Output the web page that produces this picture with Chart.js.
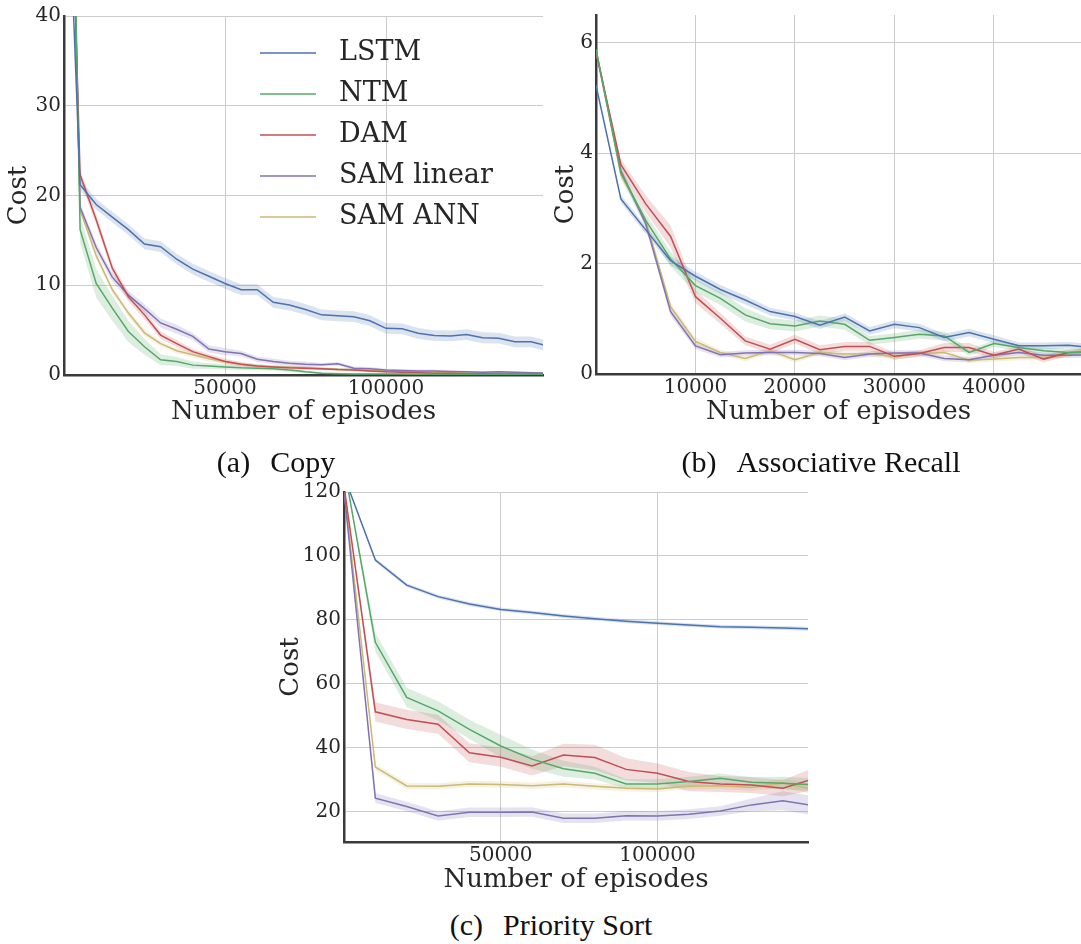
<!DOCTYPE html>
<html lang="en">
<head>
<meta charset="UTF-8" />
<title>Learning curves: Copy, Associative Recall, Priority Sort</title>
<style>
  body {
    margin: 0;
    background: #fff;
    width: 1081px;
    height: 944px;
    position: relative;
    overflow: hidden;
  }
  canvas.panel { position: absolute; }
  .caption {
    position: absolute;
    font-family: 'Liberation Serif', serif;
    font-size: 30px;
    line-height: 34px;
    color: #111;
    white-space: nowrap;
    transform: translate(-50%, -50%);
  }
  .caption .tag { margin-right: 20px; }
</style>
</head>
<body>
  <canvas id="copyChart" class="panel" width="560" height="430" style="left:0;top:0"></canvas>
  <canvas id="recallChart" class="panel" width="534" height="430" style="left:547px;top:0"></canvas>
  <canvas id="sortChart" class="panel" width="540" height="426" style="left:272px;top:470px"></canvas>

  <div class="caption" style="left:276px;top:462px"><span class="tag">(a)</span>Copy</div>
  <div class="caption" style="left:821px;top:462px"><span class="tag">(b)</span>Associative Recall</div>
  <div class="caption" style="left:551px;top:925px"><span class="tag">(c)</span>Priority Sort</div>

<script src="https://cdn.jsdelivr.net/npm/chart.js"></script>
<script>
  const SERIES = ['LSTM', 'NTM', 'DAM', 'SAM linear', 'SAM ANN'];
  const COLORS = ['#4c72b0', '#55a868', '#c44e52', '#8172b2', '#ccb974'];

  // ---- (a) Copy ----
  const copyEpisodes = [0, 5000, 10000, 15000, 20000, 25000, 30000, 35000, 40000, 45000,
    50000, 55000, 60000, 65000, 70000, 75000, 80000, 85000, 90000, 95000,
    100000, 105000, 110000, 115000, 120000, 125000, 130000, 135000, 140000, 145000, 150000];
  const copyLSTM = [68, 21.2, 19.0, 17.6, 16.2, 14.6, 14.3, 12.9, 11.8, 11.0, 10.2, 9.5, 9.5, 8.1, 7.8, 7.3,
    6.7, 6.6, 6.5, 6.05, 5.2, 5.15, 4.65, 4.4, 4.35, 4.5, 4.15, 4.1, 3.7, 3.7, 3.25];
  const copyNTM = [110, 16.2, 10.2, 7.45, 4.85, 3.15, 1.7, 1.5, 1.1, 1.0, 0.9, 0.8, 0.75, 0.7, 0.55, 0.35,
    0.2, 0.15, 0.1, 0.1, 0.1, 0.1, 0.08, 0.08, 0.08, 0.08, 0.07, 0.07, 0.07, 0.07, 0.07];
  const copyDAM = [85, 22.3, 17.3, 11.9, 8.7, 6.7, 4.45, 3.5, 2.6, 2.05, 1.5, 1.2, 1.0, 0.9, 0.8, 0.75,
    0.7, 0.6, 0.55, 0.45, 0.35, 0.3, 0.25, 0.2, 0.2, 0.15, 0.15, 0.12, 0.12, 0.1, 0.1];
  const copySAMLinear = [95, 18.7, 14.2, 10.9, 8.9, 7.4, 5.8, 5.1, 4.3, 2.9, 2.6, 2.4, 1.75, 1.5, 1.3, 1.2,
    1.15, 1.25, 0.75, 0.7, 0.55, 0.5, 0.45, 0.45, 0.4, 0.35, 0.3, 0.35, 0.3, 0.25, 0.2];
  const copySAMANN = [100, 18.4, 13.3, 9.5, 6.9, 4.7, 3.5, 2.7, 2.25, 1.8, 1.5, 1.2, 1.0, 0.9, 0.85, 0.8,
    0.7, 0.65, 0.6, 0.5, 0.45, 0.4, 0.35, 0.3, 0.3, 0.25, 0.25, 0.2, 0.2, 0.2, 0.2];
  // half width of the shaded band
  const copyLSTMBand = [0, 0.6, 0.6, 0.6, 0.6, 0.6, 0.6, 0.6, 0.6, 0.6, 0.6, 0.6, 0.6, 0.6, 0.6, 0.6,
    0.6, 0.6, 0.6, 0.6, 0.6, 0.6, 0.6, 0.6, 0.6, 0.6, 0.6, 0.6, 0.6, 0.6, 0.6];
  const copyNTMBand = [0, 1.5, 1.6, 1.4, 1.2, 0.9, 0.6, 0.5, 0.4, 0.3, 0.3, 0.25, 0.2, 0.2, 0.2, 0.15,
    0.1, 0.1, 0.1, 0.1, 0.1, 0.1, 0.1, 0.1, 0.1, 0.1, 0.1, 0.1, 0.1, 0.1, 0.1];
  const copyDAMBand = [0, 0.6, 0.6, 0.5, 0.5, 0.5, 0.4, 0.4, 0.3, 0.3, 0.3, 0.25, 0.2, 0.2, 0.2, 0.2,
    0.15, 0.15, 0.15, 0.15, 0.1, 0.1, 0.1, 0.1, 0.1, 0.1, 0.1, 0.1, 0.1, 0.1, 0.1];
  const copySAMLinearBand = [0, 0.5, 0.5, 0.5, 0.5, 0.5, 0.5, 0.5, 0.4, 0.4, 0.4, 0.3, 0.3, 0.3, 0.3, 0.3,
    0.2, 0.2, 0.2, 0.2, 0.15, 0.15, 0.15, 0.15, 0.1, 0.1, 0.1, 0.1, 0.1, 0.1, 0.1];
  const copySAMANNBand = [0, 0.4, 0.4, 0.4, 0.4, 0.4, 0.3, 0.3, 0.3, 0.3, 0.2, 0.2, 0.2, 0.2, 0.15, 0.15,
    0.15, 0.1, 0.1, 0.1, 0.1, 0.1, 0.1, 0.1, 0.1, 0.1, 0.1, 0.1, 0.1, 0.1, 0.1];
  const copyXTicks = [50000, 100000];
  const copyYTicks = [0, 10, 20, 30, 40];

  // ---- (b) Associative Recall ----
  const recallEpisodes = [0, 2500, 5000, 7500, 10000, 12500, 15000, 17500, 20000, 22500, 25000,
    27500, 30000, 32500, 35000, 37500, 40000, 42500, 45000, 47500, 50000];
  const recallLSTM = [5.23, 3.17, 2.61, 2.05, 1.77, 1.53, 1.34, 1.13, 1.04, 0.885, 1.03,
    0.78, 0.9, 0.84, 0.66, 0.75, 0.63, 0.51, 0.51, 0.52, 0.48];
  const recallNTM = [5.88, 3.64, 2.78, 2.08, 1.6, 1.37, 1.07, 0.91, 0.87, 0.96, 0.9,
    0.61, 0.66, 0.72, 0.69, 0.39, 0.55, 0.48, 0.42, 0.39, 0.4];
  const recallDAM = [5.85, 3.79, 3.08, 2.49, 1.4, 1.01, 0.6, 0.45, 0.63, 0.44, 0.5,
    0.5, 0.32, 0.37, 0.48, 0.48, 0.34, 0.45, 0.27, 0.39, 0.4];
  const recallSAMLinear = [5.85, 3.68, 2.72, 1.13, 0.51, 0.35, 0.38, 0.39, 0.39, 0.37, 0.3,
    0.36, 0.38, 0.38, 0.28, 0.26, 0.34, 0.39, 0.34, 0.34, 0.35];
  const recallSAMANN = [5.85, 3.61, 2.78, 1.22, 0.59, 0.39, 0.28, 0.42, 0.26, 0.39, 0.36,
    0.37, 0.31, 0.37, 0.39, 0.25, 0.27, 0.3, 0.3, 0.35, 0.5];
  const recallLSTMBand = [0, 0.07, 0.07, 0.08, 0.08, 0.08, 0.08, 0.07, 0.07, 0.07, 0.07,
    0.07, 0.07, 0.07, 0.07, 0.07, 0.07, 0.06, 0.06, 0.06, 0.06];
  const recallNTMBand = [0, 0.1, 0.12, 0.14, 0.12, 0.12, 0.12, 0.1, 0.1, 0.1, 0.1,
    0.08, 0.08, 0.08, 0.08, 0.06, 0.06, 0.06, 0.06, 0.06, 0.06];
  const recallDAMBand = [0, 0.1, 0.15, 0.2, 0.12, 0.1, 0.08, 0.08, 0.08, 0.08, 0.08,
    0.08, 0.06, 0.06, 0.08, 0.08, 0.06, 0.06, 0.06, 0.06, 0.06];
  const recallSAMLinearBand = [0, 0.06, 0.06, 0.08, 0.06, 0.05, 0.05, 0.05, 0.05, 0.05, 0.05,
    0.05, 0.05, 0.05, 0.05, 0.05, 0.05, 0.05, 0.05, 0.05, 0.05];
  const recallSAMANNBand = [0, 0.06, 0.06, 0.08, 0.06, 0.05, 0.05, 0.05, 0.05, 0.05, 0.05,
    0.05, 0.05, 0.05, 0.05, 0.05, 0.05, 0.05, 0.05, 0.05, 0.05];
  const recallXTicks = [10000, 20000, 30000, 40000];
  const recallYTicks = [0, 2, 4, 6];

  // ---- (c) Priority Sort ----
  const sortEpisodes = [0, 10000, 20000, 30000, 40000, 50000, 60000, 70000, 80000,
    90000, 100000, 110000, 120000, 130000, 140000, 150000];
  const sortLSTM = [125, 98.75, 90.9, 87.3, 85.0, 83.3, 82.3, 81.25, 80.4, 79.6, 79.0, 78.4, 77.9, 77.7, 77.5, 77.2];
  const sortNTM = [128, 73.0, 55.8, 51.6, 45.8, 40.6, 36.5, 33.5, 32.1, 28.75, 28.75, 29.5, 30.5, 29.3, 29.0, 28.5];
  const sortDAM = [122, 51.3, 48.9, 47.4, 38.5, 37.1, 34.4, 37.8, 37.0, 33.3, 32.1, 29.5, 28.75, 28.4, 27.4, 30.4];
  const sortSAMLinear = [120.5, 24.3, 21.7, 18.75, 19.9, 19.9, 20.0, 18.0, 18.0, 18.8, 18.75, 19.3, 20.3, 22.2, 23.5, 21.9];
  const sortSAMANN = [121, 34.0, 28.1, 28.0, 28.75, 28.6, 28.2, 28.75, 28.0, 27.4, 27.2, 28.0, 28.2, 27.6, 29.0, 27.0];
  const sortLSTMBand = [0, 0.6, 0.6, 0.6, 0.6, 0.6, 0.6, 0.6, 0.6, 0.6, 0.6, 0.6, 0.6, 0.6, 0.6, 0.6];
  const sortNTMBand = [0, 3, 3, 3, 3, 3.5, 3, 2.5, 2, 1.5, 1.5, 1.5, 1.5, 1.5, 2, 2];
  const sortDAMBand = [0, 3, 3, 3, 3, 3, 3, 3.5, 4, 3.5, 3, 3, 2.5, 2.5, 2.5, 3.5];
  const sortSAMLinearBand = [0, 1.5, 1.5, 1.5, 1.5, 1.5, 1.5, 1.5, 1.5, 1.5, 1.5, 1.5, 1.5, 2, 3, 3];
  const sortSAMANNBand = [0, 1, 1, 1, 1, 1, 1, 1, 1, 1, 1, 1, 1, 1, 1.5, 1.5];
  const sortXTicks = [50000, 100000];
  const sortYTicks = [20, 40, 60, 80, 100, 120];

  const TEXT = '#262626';
  const FONT = 'DejaVu Serif';

  function rgba(hex, a) {
    const n = parseInt(hex.slice(1), 16);
    return `rgba(${(n >> 16) & 255},${(n >> 8) & 255},${n & 255},${a})`;
  }

  function buildDatasets(episodes, values, bands) {
    const lines = [], fills = [];
    values.forEach((vals, i) => {
      lines.push({
        label: SERIES[i],
        data: episodes.map((x, k) => ({ x, y: vals[k] })),
        borderColor: COLORS[i], borderWidth: 1.5,
        pointRadius: 0, fill: false, tension: 0, order: 0, clip: 0
      });
      fills.push({
        label: '_hi',
        data: episodes.map((x, k) => ({ x, y: vals[k] + bands[i][k] })),
        borderColor: 'rgba(0,0,0,0)', borderWidth: 0, pointRadius: 0,
        fill: '+1', backgroundColor: rgba(COLORS[i], 0.2), order: 1, clip: 0
      });
      fills.push({
        label: '_lo',
        data: episodes.map((x, k) => ({ x, y: vals[k] - bands[i][k] })),
        borderColor: 'rgba(0,0,0,0)', borderWidth: 0, pointRadius: 0,
        fill: false, order: 1, clip: 0
      });
    });
    return lines.concat(fills);
  }

  // legend drawn inside the Copy panel, over the grid
  const innerLegend = {
    id: 'innerLegend',
    afterDatasetsDraw(chart) {
      const ctx = chart.ctx;
      ctx.save();
      ctx.font = `27px "${FONT}"`;
      ctx.textBaseline = 'middle';
      SERIES.forEach((name, i) => {
        const y = 53 + i * 41;
        ctx.strokeStyle = COLORS[i];
        ctx.lineWidth = 1.5;
        ctx.beginPath();
        ctx.moveTo(260, y);
        ctx.lineTo(316, y);
        ctx.stroke();
        ctx.fillStyle = TEXT;
        ctx.fillText(name, 339, y);
      });
      ctx.restore();
    }
  };

  function makeChart(id, cfg) {
    const ctx = document.getElementById(id).getContext('2d');
    return new Chart(ctx, {
      type: 'line',
      data: { datasets: buildDatasets(cfg.episodes, cfg.values, cfg.bands) },
      plugins: cfg.plugins || [],
      options: {
        responsive: false,
        animation: false,
        layout: { padding: cfg.padding },
        plugins: { legend: { display: false }, tooltip: { enabled: false } },
        scales: {
          x: {
            type: 'linear',
            min: cfg.xRange[0], max: cfg.xRange[1],
            afterBuildTicks: s => { s.ticks = cfg.xTicks.map(v => ({ value: v })); },
            afterFit: s => { s.height = cfg.xHeight; },
            grid: { color: '#cccccc', lineWidth: 1, drawTicks: false },
            border: { display: true, color: '#3a3a3a', width: 2.5 },
            ticks: { font: { family: FONT, size: 20 }, color: TEXT, padding: 2, maxRotation: 0, callback: v => String(v) },
            title: { display: true, text: 'Number of episodes', color: TEXT, font: { family: FONT, size: 26 }, padding: { top: 0, bottom: cfg.xTitlePad } }
          },
          y: {
            type: 'linear',
            min: cfg.yRange[0], max: cfg.yRange[1],
            afterBuildTicks: s => { s.ticks = cfg.yTicks.map(v => ({ value: v })); },
            afterFit: s => { s.width = cfg.yWidth; },
            grid: { color: '#cccccc', lineWidth: 1, drawTicks: false },
            border: { display: true, color: '#3a3a3a', width: 2.5 },
            ticks: { font: { family: FONT, size: 20 }, color: TEXT, padding: 3, callback: v => String(v) },
            title: { display: true, text: 'Cost', color: TEXT, font: { family: FONT, size: 26 }, padding: { top: 4, bottom: 4 } }
          }
        }
      }
    });
  }

  makeChart('copyChart', {
    episodes: copyEpisodes,
    values: [copyLSTM, copyNTM, copyDAM, copySAMLinear, copySAMANN],
    bands: [copyLSTMBand, copyNTMBand, copyDAMBand, copySAMLinearBand, copySAMANNBand],
    xRange: [0, 148750], yRange: [0, 40],
    xTicks: copyXTicks, yTicks: copyYTicks,
    padding: { top: 16, right: 17, left: 0, bottom: 0 },
    yWidth: 64, xHeight: 55, xTitlePad: 2.4,
    plugins: [innerLegend]
  });

  makeChart('recallChart', {
    episodes: recallEpisodes,
    values: [recallLSTM, recallNTM, recallDAM, recallSAMLinear, recallSAMANN],
    bands: [recallLSTMBand, recallNTMBand, recallDAMBand, recallSAMLinearBand, recallSAMANNBand],
    xRange: [0, 48750], yRange: [0, 6.5],
    xTicks: recallXTicks, yTicks: recallYTicks,
    padding: { top: 7, right: 0, left: 0, bottom: 0 },
    yWidth: 49, xHeight: 56, xTitlePad: 2.4
  });

  makeChart('sortChart', {
    episodes: sortEpisodes,
    values: [sortLSTM, sortNTM, sortDAM, sortSAMLinear, sortSAMANN],
    bands: [sortLSTMBand, sortNTMBand, sortDAMBand, sortSAMLinearBand, sortSAMANNBand],
    xRange: [0, 148000], yRange: [10.6, 120],
    xTicks: sortXTicks, yTicks: sortYTicks,
    padding: { top: 22, right: 4, left: 0, bottom: 0 },
    yWidth: 72, xHeight: 54, xTitlePad: 0
  });
</script>
</body>
</html>
